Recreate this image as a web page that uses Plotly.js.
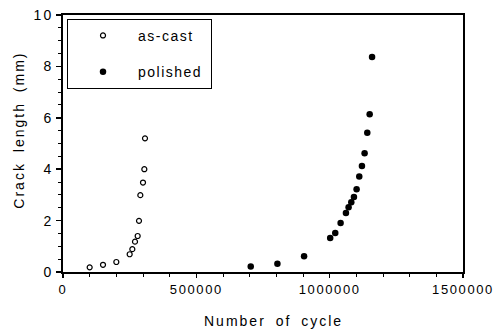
<!DOCTYPE html>
<html><head><meta charset="utf-8">
<script src="https://cdn.plot.ly/plotly-3.0.1.min.js"></script>
<style>
html,body{margin:0;padding:0;background:#fff;}
#chart{width:498px;height:332px;}
#chart .xtick text {letter-spacing:1.6px;}
#chart .ytick text {letter-spacing:2px;}
#chart .legendtext {letter-spacing:1.5px;}
#chart .annotation-text {letter-spacing:2px; word-spacing:4px;}
</style>
</head><body><div id="chart"></div>
<script>
const seriesNames = ["as-cast", "polished"];
const asCastCycles = [100000, 150000, 200000, 250000, 260000, 270000, 280000, 285000, 290000, 300000, 305000, 307500];
const asCastLength = [0.18, 0.28, 0.39, 0.69, 0.89, 1.18, 1.40, 1.99, 2.99, 3.48, 4.0, 5.2];
const polishedCycles = [704000, 804000, 904000, 1002000, 1021000, 1041000, 1061000, 1071000, 1081000, 1091000, 1101000, 1111000, 1121000, 1131000, 1141000, 1150000, 1159000];
const polishedLength = [0.21, 0.32, 0.61, 1.32, 1.52, 1.91, 2.30, 2.52, 2.71, 2.92, 3.22, 3.72, 4.12, 4.62, 5.42, 6.14, 8.37];
const xTicks = [0, 500000, 1000000, 1500000];
const xTickText = ["0", "500000", "1000000", "1500000"];
const yTicks = [0, 2, 4, 6, 8, 10];
const xTitle = "Number of cycle";
const yTitle = "Crack length (mm)";

const pad = "&nbsp;&nbsp;&nbsp;&nbsp;";
const traces = [
  {x: asCastCycles, y: asCastLength, name: seriesNames[0] + pad, legendgroup: "a", type: "scatter", mode: "markers",
   marker: {symbol: "circle-open", size: 5, color: "#000", line: {width: 1.2, color: "#000"}}},
  {x: polishedCycles, y: polishedLength, name: seriesNames[1] + pad, legendgroup: "b", type: "scatter", mode: "markers",
   marker: {symbol: "circle", size: 6.5, color: "#000"}}
];
const fnt = {family: "Liberation Sans, Arial, sans-serif", color: "#000"};
const layout = {
  width: 498, height: 332,
  margin: {l: 63, r: 35, t: 15, b: 60},
  paper_bgcolor: "#fff", plot_bgcolor: "#fff",
  showlegend: true,
  legend: {x: 0.01, y: 0.985, xanchor: "left", yanchor: "top", bordercolor: "#000", borderwidth: 1,
    bgcolor: "#fff", font: Object.assign({size: 14}, fnt), itemwidth: 60, tracegroupgap: 15},
  xaxis: {range: [0, 1500000], tickvals: xTicks, ticktext: xTickText, showgrid: false, zeroline: false,
    showline: true, linecolor: "#000", linewidth: 2, mirror: true, ticks: "outside", ticklen: 4, tickwidth: 1.5, tickcolor: "#000",
    minor: {dtick: 100000, ticks: "outside", ticklen: 3, tickwidth: 1, tickcolor: "#000"},
    tickfont: Object.assign({size: 13}, fnt)},
  yaxis: {range: [0, 10], tickvals: yTicks, showgrid: false, zeroline: false,
    showline: true, linecolor: "#000", linewidth: 2, mirror: true, ticks: "outside", ticklen: 5, tickwidth: 1.5, tickcolor: "#000",
    minor: {dtick: 0.5, ticks: "outside", ticklen: 3, tickwidth: 1, tickcolor: "#000"},
    tickfont: Object.assign({size: 14}, fnt)},
  annotations: [
    {text: xTitle, xref: "paper", yref: "paper", x: 0.525, y: -0.19, xanchor: "center", yanchor: "middle",
     showarrow: false, font: Object.assign({size: 14}, fnt)},
    {text: yTitle, xref: "paper", yref: "paper", x: -0.11, y: 0.55, xanchor: "center", yanchor: "middle", textangle: -90,
     showarrow: false, font: Object.assign({size: 14}, fnt)}
  ]
};
Plotly.newPlot("chart", traces, layout, {displayModeBar: false, staticPlot: true});
</script></body></html>
